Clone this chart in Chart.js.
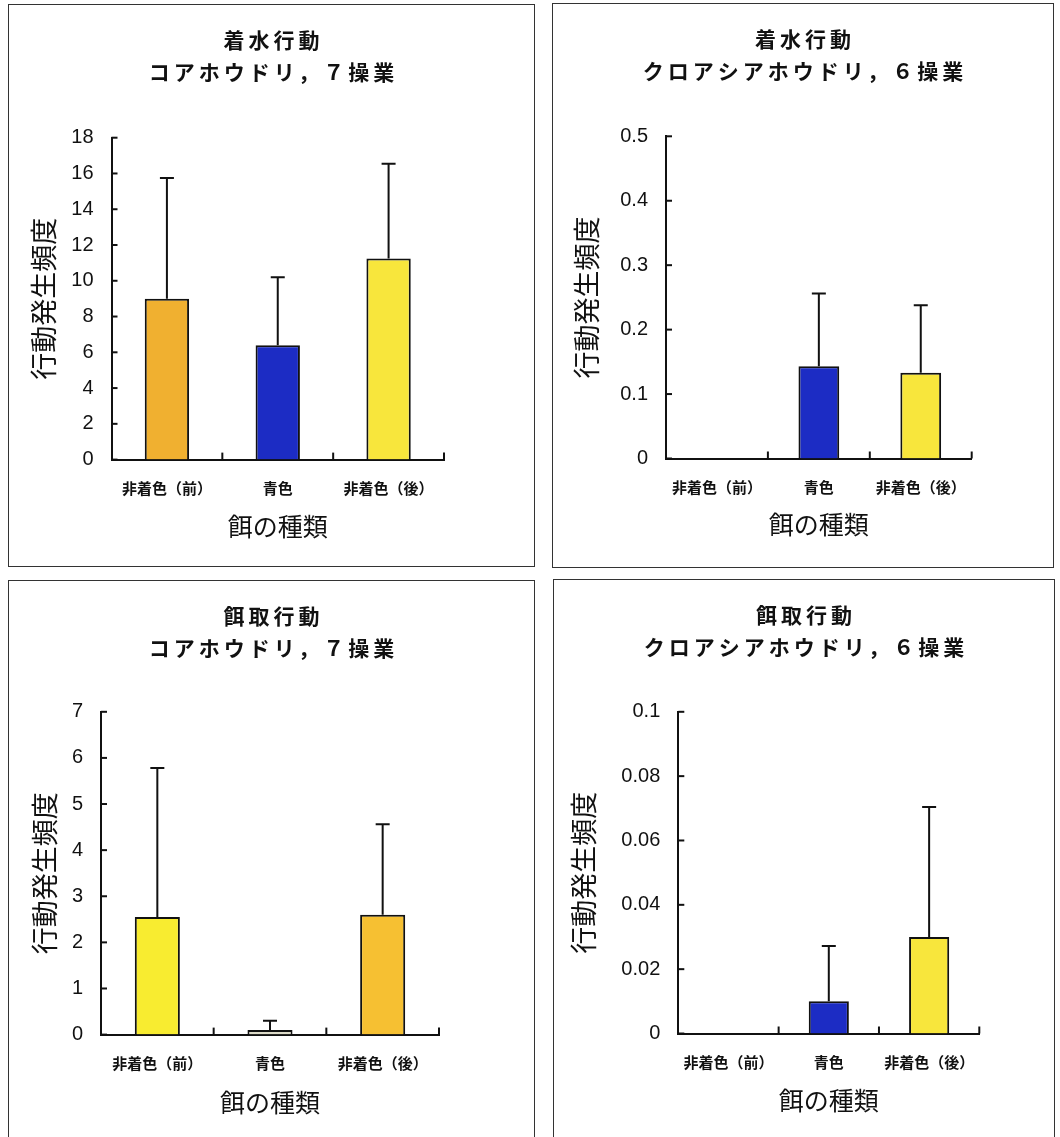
<!DOCTYPE html>
<html>
<head>
<meta charset="utf-8">
<script src="https://cdn.jsdelivr.net/npm/chart.js@4/dist/chart.umd.min.js"></script>
<style>
  html, body { margin: 0; padding: 0; background: #fff; }
  body { position: relative; width: 1060px; height: 1137px; overflow: hidden; }
  .frame { position: absolute; border: 1.5px solid #333; box-sizing: border-box; }
  canvas { position: absolute; }
</style>
</head>
<body>
<script>
// Data
const categories = ['非着色（前）', '青色', '非着色（後）'];

// 着水行動 コアホウドリ
const landKoaMean = [9.0, 6.4, 11.25];
const landKoaSd = [6.75, 3.8, 5.3];
const landKoaTicks = [0, 2, 4, 6, 8, 10, 12, 14, 16, 18];

// 着水行動 クロアシアホウドリ
const landKuroMean = [0, 0.143, 0.133];
const landKuroSd = [0, 0.113, 0.105];
const landKuroTicks = [0, 0.1, 0.2, 0.3, 0.4, 0.5];

// 餌取行動 コアホウドリ
const feedKoaMean = [2.55, 0.1, 2.6];
const feedKoaSd = [3.23, 0.2, 1.96];
const feedKoaTicks = [0, 1, 2, 3, 4, 5, 6, 7];

// 餌取行動 クロアシアホウドリ
const feedKuroMean = [0, 0.01, 0.03];
const feedKuroSd = [0, 0.0172, 0.0404];
const feedKuroTicks = [0, 0.02, 0.04, 0.06, 0.08, 0.1];

const ORANGE = '#f0b030', BLUE = '#1c2cc4', YELLOW = '#f8e63c';
const YELLOW2 = '#f8ec30', ORANGE2 = '#f6c032', PALE = '#dcdac8';

const CJK = '"Noto Sans CJK JP", sans-serif';

const panels = [
  { box: [8, 4, 527, 563], area: [111.5, 137.7, 444, 459.6],
    title: ['着水行動', 'コアホウドリ，７操業'],
    mean: landKoaMean, sd: landKoaSd, ticks: landKoaTicks,
    colors: [ORANGE, BLUE, YELLOW], yTitleX: 44, xTitleY: 526 },
  { box: [552, 3, 502, 565], area: [666, 136.3, 971.7, 458.5],
    title: ['着水行動', 'クロアシアホウドリ，６操業'],
    mean: landKuroMean, sd: landKuroSd, ticks: landKuroTicks,
    colors: [ORANGE, BLUE, YELLOW], yTitleX: 587, xTitleY: 524 },
  { box: [8, 580, 527, 560], area: [101, 711.8, 439, 1034.6],
    title: ['餌取行動', 'コアホウドリ，７操業'],
    mean: feedKoaMean, sd: feedKoaSd, ticks: feedKoaTicks,
    colors: [YELLOW2, PALE, ORANGE2], yTitleX: 45, xTitleY: 1102 },
  { box: [553, 579, 502, 561], area: [678.3, 711.8, 979.3, 1033.5],
    title: ['餌取行動', 'クロアシアホウドリ，６操業'],
    mean: feedKuroMean, sd: feedKuroSd, ticks: feedKuroTicks,
    colors: [ORANGE, BLUE, YELLOW], yTitleX: 584, xTitleY: 1100 }
];

// titles, inward axis ticks and error bars
const decor = {
  id: 'decor',
  afterDatasetsDraw(chart, args, opts) {
    const ctx = chart.ctx;
    const x = chart.scales.x, y = chart.scales.y;
    const a = chart.chartArea;
    ctx.save();
    ctx.strokeStyle = '#111';
    ctx.lineWidth = 2;
    // error bars
    const meta = chart.getDatasetMeta(0);
    meta.data.forEach((bar, i) => {
      const sd = opts.sd[i];
      if (!sd) return;
      const y0 = y.getPixelForValue(opts.mean[i]);
      const y1 = y.getPixelForValue(opts.mean[i] + sd);
      ctx.beginPath();
      ctx.moveTo(bar.x, y0);
      ctx.lineTo(bar.x, y1);
      ctx.moveTo(bar.x - 7, y1);
      ctx.lineTo(bar.x + 7, y1);
      ctx.stroke();
    });
    // y ticks pointing inward
    y.ticks.forEach(t => {
      const py = y.getPixelForValue(t.value);
      ctx.beginPath();
      ctx.moveTo(a.left, py);
      ctx.lineTo(a.left + 6, py);
      ctx.stroke();
    });
    // category separators pointing up
    for (let i = 0; i < categories.length; i++) {
      const px = x.getPixelForValue(i + 0.5);
      ctx.beginPath();
      ctx.moveTo(px, a.bottom);
      ctx.lineTo(px, a.bottom - 7);
      ctx.stroke();
    }
    ctx.restore();
  },
  afterDraw(chart, args, opts) {
    const ctx = chart.ctx;
    ctx.save();
    ctx.fillStyle = '#111';
    ctx.font = 'bold 21px ' + CJK;
    ctx.textAlign = 'center';
    ctx.textBaseline = 'middle';
    ctx.letterSpacing = '4px';
    const cx = chart.width / 2 + 2;
    ctx.fillText(opts.title[0], cx, 36);
    ctx.fillText(opts.title[1], cx, 68);
    ctx.restore();
  }
};

panels.forEach(p => {
  const [bx, by, bw, bh] = p.box;
  const [al, at, ar, ab] = p.area;

  const frame = document.createElement('div');
  frame.className = 'frame';
  Object.assign(frame.style, { left: bx + 'px', top: by + 'px', width: bw + 'px', height: bh + 'px' });
  document.body.appendChild(frame);

  const cv = document.createElement('canvas');
  cv.width = bw; cv.height = bh;
  Object.assign(cv.style, { left: bx + 'px', top: by + 'px', width: bw + 'px', height: bh + 'px' });
  document.body.appendChild(cv);

  const yW = al - bx;
  const xH = by + bh - ab;

  new Chart(cv.getContext('2d'), {
    type: 'bar',
    data: {
      labels: categories,
      datasets: [{
        data: p.mean,
        backgroundColor: p.colors,
        borderColor: '#111',
        borderWidth: 2,
        barPercentage: 0.4,
        categoryPercentage: 1
      }]
    },
    options: {
      responsive: false,
      animation: false,
      events: [],
      layout: { padding: { left: 0, top: at - by, right: bx + bw - ar, bottom: 0 } },
      plugins: {
        legend: { display: false },
        tooltip: { enabled: false },
        decor: { title: p.title, mean: p.mean, sd: p.sd }
      },
      scales: {
        x: {
          offset: true,
          grid: { display: false, drawTicks: false },
          border: { display: true, color: '#111', width: 2 },
          ticks: { padding: 20, color: '#111', font: { family: CJK, size: 15, weight: 'bold' } },
          title: {
            display: true, text: '餌の種類', color: '#111',
            font: { family: CJK, size: 25 },
            padding: { top: 0, bottom: (by + bh) - p.xTitleY - 15 }
          },
          afterFit: s => { s.height = xH; }
        },
        y: {
          min: p.ticks[0],
          max: p.ticks[p.ticks.length - 1],
          grid: { display: false, drawTicks: false },
          border: { display: true, color: '#111', width: 2 },
          afterBuildTicks: s => { s.ticks = p.ticks.map(v => ({ value: v })); },
          ticks: {
            padding: 18, color: '#111',
            font: { family: '"Liberation Sans", Arial, sans-serif', size: 20 },
            callback: v => String(v)
          },
          title: {
            display: true, text: '行動発生頻度', color: '#111',
            font: { family: CJK, size: 27 },
            padding: { top: p.yTitleX - bx - 16, bottom: 0 }
          },
          afterFit: s => { s.width = yW; }
        }
      }
    },
    plugins: [decor]
  });
});
</script>
</body>
</html>
